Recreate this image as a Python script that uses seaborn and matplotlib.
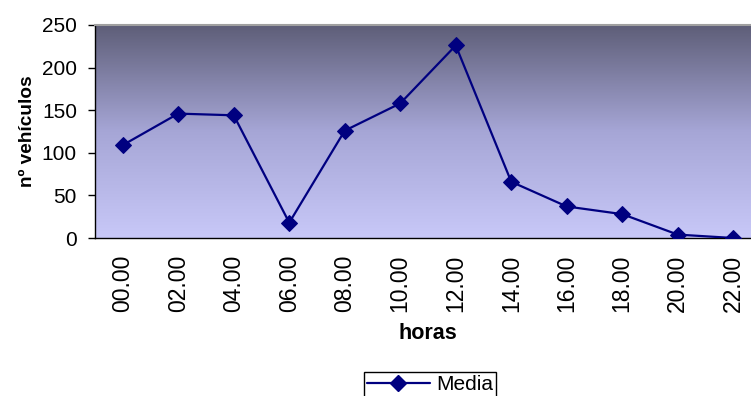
import numpy as np
import pandas as pd
import matplotlib
matplotlib.use("Agg")
import matplotlib.pyplot as plt
from matplotlib.colors import LinearSegmentedColormap
from matplotlib.lines import Line2D
import seaborn as sns

# hourly averages
horas = ["00.00", "02.00", "04.00", "06.00", "08.00", "10.00",
         "12.00", "14.00", "16.00", "18.00", "20.00", "22.00"]
media = [109, 146, 144, 18, 126, 158, 226, 66, 37, 28, 4, 0]
y_ticks = [0, 50, 100, 150, 200, 250]

df = pd.DataFrame({"horas": horas, "Media": media})

sns.set_theme(style="white")
plt.rcParams["font.family"] = ["Liberation Sans", "DejaVu Sans"]
plt.rcParams["text.color"] = "black"
plt.rcParams["axes.labelcolor"] = "black"
plt.rcParams["xtick.color"] = "black"
plt.rcParams["ytick.color"] = "black"

W, H = 751, 396
fig = plt.figure(figsize=(W / 100, H / 100), dpi=100)
# plot area spans 95..761 px horizontally, 25..238 px vertically
left, right, top, bottom = 95, 761, 25, 238
ax = fig.add_axes([left / W, 1 - bottom / H, (right - left) / W, (bottom - top) / H])

# vertical gradient background
grad = LinearSegmentedColormap.from_list("bg", ["#c8c8f8", "#a6a6d6", "#5e5e78"])
ax.imshow(np.linspace(0, 1, 256).reshape(-1, 1)[::-1], cmap=grad, aspect="auto",
          extent=[0, 1, 0, 1], transform=ax.transAxes, zorder=0)

sns.lineplot(data=df, x="horas", y="Media", ax=ax, color="#000080", linewidth=1.6,
             marker="D", markersize=8.5, markeredgecolor="#000080", zorder=3,
             legend=False)

ax.set_xlim(-0.5, 11.5)
ax.set_ylim(0, 250)
ax.set_yticks(y_ticks)
ax.set_yticklabels([str(v) for v in y_ticks], fontsize=15, color="black")

ax.set_xticks(range(len(horas)))
ax.set_xticklabels(horas, rotation=90, fontsize=16.5, color="black")
ax.set_xticks(np.arange(-0.5, 11.6, 1.0), minor=True)
ax.tick_params(axis="x", which="major", length=0, pad=12)
ax.tick_params(axis="x", which="minor", length=5, width=1, color="black", direction="out")
ax.tick_params(axis="y", length=5, width=1, color="black", direction="out", left=True, pad=8)

for s in ["left", "bottom"]:
    ax.spines[s].set_color("black")
    ax.spines[s].set_linewidth(1)
ax.spines["top"].set_color("#a0a0a0")
ax.spines["top"].set_linewidth(1.5)
ax.spines["right"].set_visible(False)

ax.set_xlabel("horas", fontsize=15.5, fontweight="bold", labelpad=8, color="black")
ax.set_ylabel("nº vehículos", fontsize=13.7, fontweight="bold", labelpad=4, color="black")

handle = Line2D([], [], color="#000080", linewidth=1.6, marker="D", markersize=8,
                markeredgecolor="#000080")
leg = fig.legend([handle], ["Media"], loc="upper center",
                 bbox_to_anchor=(430 / W, 1 - 372 / H),
                 fontsize=15, frameon=True, fancybox=False, edgecolor="black",
                 borderpad=0.15, borderaxespad=0, handlelength=3, handletextpad=0.3,
                 framealpha=1)
for t in leg.get_texts():
    t.set_color("black")

fig.savefig("out.png", dpi=100)
